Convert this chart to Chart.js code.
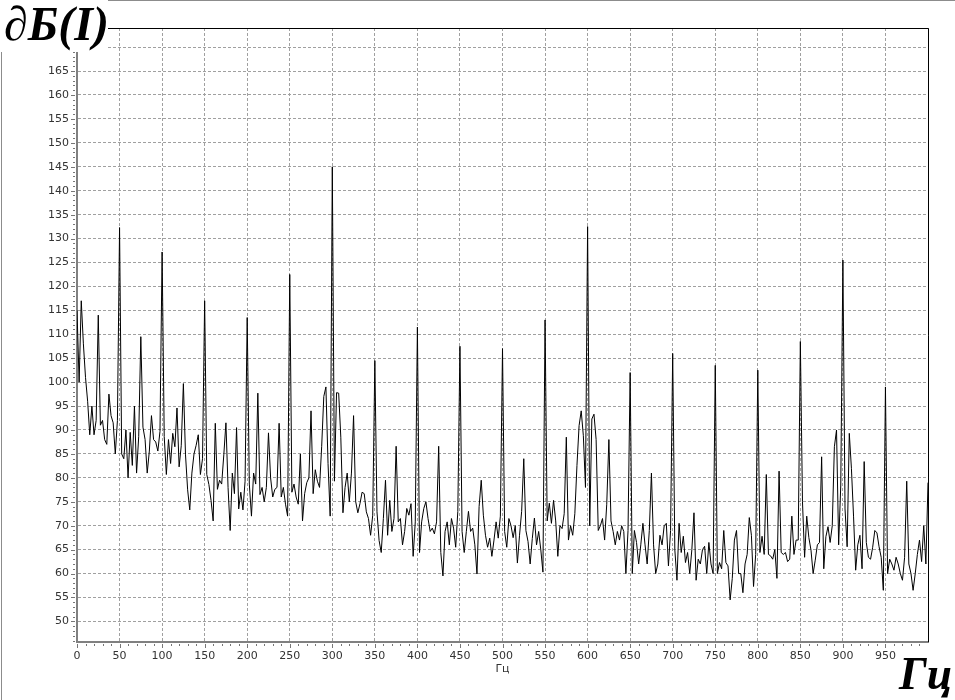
<!DOCTYPE html>
<html lang="ru">
<head>
  <meta charset="UTF-8">
  <title>Спектр дБ(I)</title>
  <style>
    body {
      margin: 0;
      background: #fff;
      font-family: "DejaVu Sans", sans-serif;
    }
    #wrap {
      position: relative;
      width: 955px;
      height: 700px;
      overflow: hidden;
    }
    #wrap canvas {
      position: absolute;
      left: 0;
      top: 0;
    }
    .big {
      position: absolute;
      font-family: "Liberation Serif", serif;
      font-weight: bold;
      font-style: italic;
      color: #000;
      line-height: 1;
      white-space: nowrap;
    }
    #yTitle {
      left: 0;
      top: 0;
      width: 108px;
      height: 52px;
      background: #fff;
      font-size: 48px;
      padding-left: 4px;
      box-sizing: border-box;
    }
    #xTitle {
      left: 899px;
      top: 651px;
      font-size: 46px;
    }
    #edgeTop {
      position: absolute;
      left: 108px;
      top: 0;
      width: 847px;
      height: 1px;
      background: #8c8c8c;
    }
    #edgeLeft {
      position: absolute;
      left: 1px;
      top: 52px;
      width: 1px;
      height: 648px;
      background: #8c8c8c;
    }
  </style>
</head>
<body>
  <div id="wrap">
    <canvas id="spectrum" width="955" height="700"></canvas>
    <div id="edgeTop"></div>
    <div id="edgeLeft"></div>
    <div id="yTitle" class="big">∂Б(I)</div>
    <div id="xTitle" class="big">Гц</div>
  </div>

  <script src="https://cdn.jsdelivr.net/npm/chart.js"></script>
  <script>
    // level in dB, one value every 2.5 Hz, grouped by 100 Hz
    const freqStep = 2.5;
    const hz0 = [115, 100, 117, 108, 101, 96, 89, 95, 89, 92, 114, 91, 92, 88, 87, 97.5, 93, 91.5, 85, 92,
      132.3, 85, 84, 90, 80, 89.5, 82.6, 95, 81, 88.6, 109.5, 90.6, 88, 81, 85.6, 93, 88, 87.5, 85.6, 89.7];
    const hz100 = [127.2, 88.6, 80.7, 88, 83, 89.3, 86.5, 94.6, 82.3, 86.7, 99.7, 84.8, 77.5, 73.3, 81, 85, 86.8, 89, 80.7, 84,
      117, 80.7, 78.6, 75.3, 71, 91.4, 77.6, 79.5, 78.7, 84.8, 91.5, 78, 69, 81, 76.7, 90.5, 73.5, 77, 73.3, 79.3];
    const hz200 = [113.5, 78.7, 72, 81, 78.7, 97.7, 76.5, 78, 75, 78, 89.4, 80, 76, 77.6, 78, 91.4, 76, 78, 74.5, 72,
      122.5, 77, 78.7, 76, 74.5, 85, 71, 76.7, 79, 80, 94, 76.7, 81.7, 79.3, 78, 86.5, 97, 99, 83, 72];
    const hz300 = [145, 79.3, 97.8, 97.7, 88.5, 72.7, 78, 81, 75, 81, 93, 75, 72.7, 74.6, 77, 76.7, 72.9, 71.5, 68, 72.2,
      104.5, 72.9, 66.9, 64.4, 71.5, 79.5, 68, 75.3, 68.8, 71.5, 86.6, 70.8, 71.5, 66, 68.8, 73.6, 72.2, 74.6, 63.6, 70.8];
    const hz400 = [111.5, 64.4, 70.8, 73.6, 75, 71.5, 68.8, 69.5, 68.3, 70.8, 86.6, 64.4, 59.5, 68.8, 70.8, 66, 71.5, 69.5, 65.5, 73,
      107.5, 68.8, 64.4, 68.8, 73, 68.8, 69.5, 66, 59.9, 74, 79.5, 72.2, 68, 65.5, 67.4, 63.6, 67, 70.8, 67.4, 72];
    const hz500 = [107, 68.8, 65.5, 71.5, 70, 67.5, 70, 62.2, 68, 73, 84, 69, 66.7, 62, 67.3, 71.6, 66, 68.8, 65, 60.3,
      113, 71, 74.7, 70.5, 75.3, 71, 63.6, 70, 69.4, 72.5, 88.5, 67, 70, 68, 72.5, 82.6, 90.9, 94, 88.8, 78];
    const hz600 = [132.5, 70, 92.3, 93.3, 88, 69, 70, 71.5, 67, 74.5, 88, 71, 68.8, 66, 68.8, 67, 70, 68.8, 60, 69,
      102, 60, 69, 66.5, 62, 66, 70.5, 66, 62, 69, 81, 66, 60, 62, 68, 66, 70, 70.5, 61.6, 69];
    const hz700 = [106, 65, 58.6, 70.5, 64.4, 67.8, 62.3, 64.4, 60, 65, 72.7, 58.6, 63, 62, 65, 65.7, 60, 66.5, 62, 60,
      103.5, 60, 62.3, 61, 69, 62.3, 61.6, 54.5, 59, 67, 69, 60, 60, 56, 62, 64, 71.7, 68, 57.3, 64];
    const hz800 = [102.5, 64.4, 67.8, 64, 80.7, 64, 63.7, 63, 65, 59, 81.4, 64.4, 64, 64.4, 62.5, 63, 72, 64, 67, 67,
      108.5, 75, 63.4, 72, 67.5, 64.9, 60, 62.8, 66, 66.5, 84.4, 61, 67.7, 69.8, 66.5, 70, 86.5, 90, 66, 78.5];
    const hz900 = [125.5, 73.5, 65.6, 89.3, 82, 72, 60.7, 66, 68, 61, 83.4, 66.5, 63.4, 63, 65.5, 69, 68.5, 65.6, 63.4, 56.5,
      99, 60, 63, 62, 60.7, 63.4, 62, 60, 58.6, 63.4, 79.3, 62, 60, 56.5, 60, 64, 67, 62.5, 70, 62, 79];

    const levels = [].concat(hz0, hz100, hz200, hz300, hz400, hz500, hz600, hz700, hz800, hz900);
    const points = levels.map((v, i) => ({ x: i * freqStep, y: v }));

    const tickFont = { family: 'DejaVu Sans', size: 11 };

    // black top/right frame and small tick marks on both axes
    const framePlugin = {
      id: 'frame',
      afterDraw(chart) {
        const { ctx, chartArea: a, scales: { x, y } } = chart;
        ctx.save();
        ctx.strokeStyle = '#000';
        ctx.lineWidth = 1;
        ctx.beginPath();
        ctx.moveTo(a.left, a.top + 0.5);
        ctx.lineTo(a.right + 0.5, a.top + 0.5);
        ctx.lineTo(a.right + 0.5, a.bottom);
        ctx.stroke();

        ctx.strokeStyle = '#777';
        ctx.beginPath();
        for (let v = 46; v <= 173; v++) {
          const py = Math.round(y.getPixelForValue(v)) + 0.5;
          const len = v % 5 ? 2 : 4;
          ctx.moveTo(a.left - 2, py);
          ctx.lineTo(a.left - 2 - len, py);
        }
        for (let f = 0; f < 1000; f += 10) {
          const px = Math.round(x.getPixelForValue(f)) + 0.5;
          const len = f % 50 ? 2 : 4;
          ctx.moveTo(px, a.bottom + 2);
          ctx.lineTo(px, a.bottom + 2 + len);
        }
        ctx.stroke();
        ctx.restore();
      }
    };

    new Chart(document.getElementById('spectrum'), {
      type: 'line',
      data: {
        datasets: [{
          data: points,
          borderColor: '#000',
          borderWidth: 1,
          pointRadius: 0,
          tension: 0,
          fill: false
        }]
      },
      options: {
        responsive: false,
        animation: false,
        layout: { padding: { left: 0, top: 28, right: 27, bottom: 18 } },
        plugins: {
          legend: { display: false },
          tooltip: { enabled: false }
        },
        scales: {
          x: {
            type: 'linear',
            min: 0,
            max: 1000,
            afterFit: s => { s.height = 40; },
            ticks: {
              stepSize: 50,
              padding: 8,
              maxRotation: 0,
              autoSkip: false,
              color: '#333',
              font: tickFont,
              callback: v => (v >= 1000 ? '' : v)
            },
            grid: {
              color: '#a0a0a0',
              drawTicks: false
            },
            border: { color: '#808080', width: 2, dash: [3, 2] },
            title: {
              display: true,
              text: 'Гц',
              color: '#333',
              font: tickFont,
              padding: { top: 0, bottom: 6 }
            }
          },
          y: {
            min: 45.7,
            max: 174,
            afterFit: s => { s.width = 77; },
            ticks: {
              stepSize: 5,
              includeBounds: false,
              padding: 8,
              color: '#333',
              font: tickFont,
              callback: v => (v >= 170 ? '' : v)
            },
            grid: {
              color: '#a0a0a0',
              drawTicks: false
            },
            border: { color: '#808080', width: 2, dash: [3, 2] }
          }
        }
      },
      plugins: [framePlugin]
    });
  </script>
</body>
</html>
